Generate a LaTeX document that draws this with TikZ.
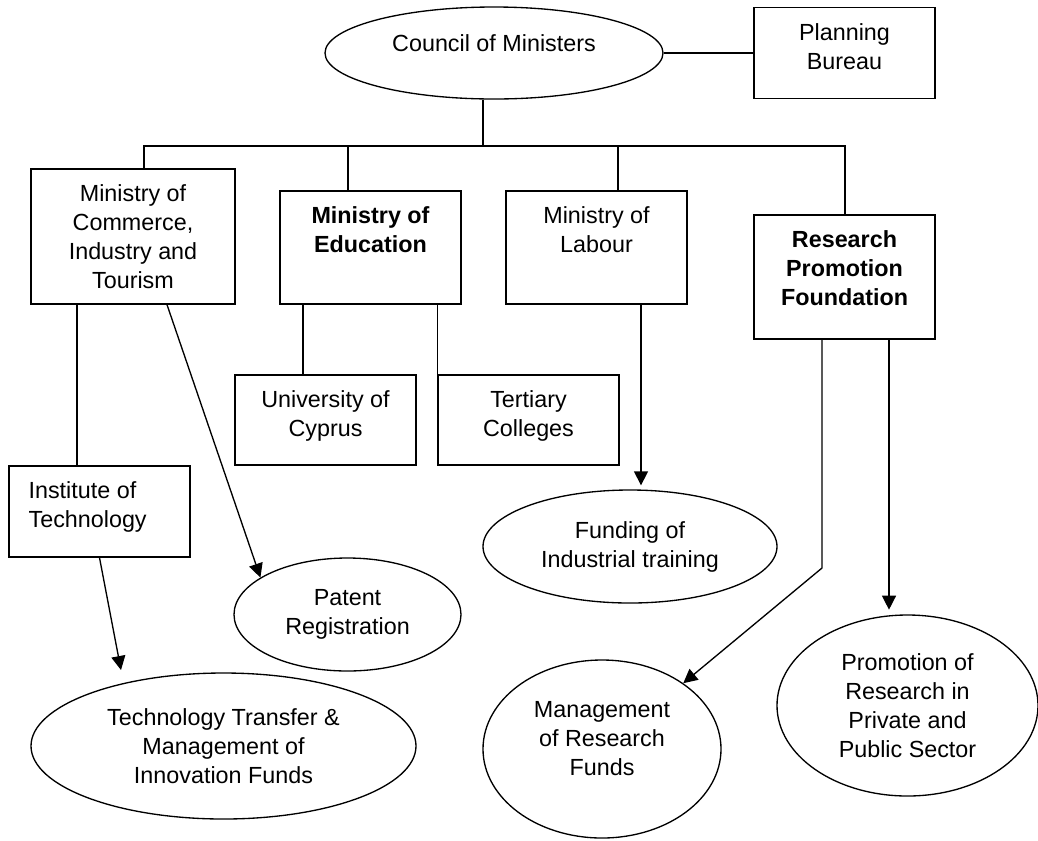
\documentclass[tikz,border=0pt]{standalone}
\usepackage{fontspec}
\setmainfont{Liberation Sans}
\usetikzlibrary{shapes.geometric}
\usetikzlibrary{arrows.meta}
\usetikzlibrary{positioning}

\tikzset{
  box/.style={draw, line width=1pt, rectangle, inner sep=0pt, minimum width=135.75pt},
  oval/.style={draw, line width=1pt, ellipse, inner sep=0pt, align=center},
  txt/.style={inner sep=0pt, align=center},
  boldtxt/.style={txt, font=\fontsize{17.5}{21.75}\selectfont\bfseries},
  link/.style={line width=1pt},
  arr/.style={line width=1pt, -{Triangle[length=10.5pt,width=10.5pt]}},
}

\begin{document}
\begin{tikzpicture}[x=0.75pt,y=0.75pt,yscale=-1,xscale=1,every node/.style={font=\fontsize{17.5}{21.75}\selectfont}]
\useasboundingbox (0,0) rectangle (1038,840);

%Shape: Ellipse
\node [oval, minimum width=253.5pt, minimum height=69pt, text depth=15pt] (council) at (494,53) {Council of Ministers};
%Shape: Rectangle
\node [box, minimum height=68.25pt] (planning) at (844.5,53) {};
% Text Node
\node [txt, below=12pt of planning.north] (planning-txt) {Planning\\Bureau};

%Shape: Rectangle
\node [box, minimum width=153pt, minimum height=101.25pt] (commerce) at (133,236.5) {};
% Text Node
\node [txt, below=12pt of commerce.north] (commerce-txt) {Ministry of\\Commerce,\\Industry and\\Tourism};
%Shape: Rectangle
\node [box, minimum height=84.75pt] (edu) at (370.5,247.5) {};
% Text Node
\node [boldtxt, below=12pt of edu.north] (edu-txt) {Ministry of\\Education};
%Shape: Rectangle
\node [box, minimum height=84.75pt] (labour) at (596.5,247.5) {};
% Text Node
\node [txt, below=12pt of labour.north] (labour-txt) {Ministry of\\Labour};
%Shape: Rectangle
\node [box, minimum height=93pt] (rpf) at (844.5,277) {};
% Text Node
\node [boldtxt, below=12pt of rpf.north] (rpf-txt) {Research\\Promotion\\Foundation};

%Shape: Rectangle
\node [box, minimum height=67.5pt] (univ) at (325.5,420) {};
% Text Node
\node [txt, below=12pt of univ.north] (univ-txt) {University of\\Cyprus};
%Shape: Rectangle
\node [box, minimum height=67.5pt] (tertiary) at (528.5,420) {};
% Text Node
\node [txt, below=12pt of tertiary.north] (tertiary-txt) {Tertiary\\Colleges};
%Shape: Rectangle
\node [box, minimum height=68.25pt] (inst) at (99.5,511.5) {};
% Text Node
\node [txt, align=left, below right=12pt and 15pt of inst.north west] (inst-txt) {Institute of\\Technology};

%Shape: Ellipse
\node [oval, minimum width=220.5pt, minimum height=84.75pt] (funding) at (630,546.5) {Funding of\\Industrial training};
%Shape: Ellipse
\node [oval, minimum width=170.25pt, minimum height=84.75pt] (patent) at (347.5,614.5) {Patent\\Registration};
%Shape: Ellipse
\node [oval, minimum width=288.75pt, minimum height=109.5pt] (transfer) at (223.5,746) {Technology Transfer \&\\Management of\\Innovation Funds};
%Shape: Ellipse
\node [oval, minimum width=178.5pt, minimum height=133.5pt, text depth=16.5pt] (mgmt) at (602,749) {Management\\of Research\\Funds};
%Shape: Ellipse
\node [oval, minimum width=195.75pt, minimum height=135.75pt] (promo) at (907.5,705.5) {Promotion of\\Research in\\Private and\\Public Sector};

\coordinate (bus) at (483,146);
\coordinate (j1) at (144,146);
\coordinate (j2) at (348,146);
\coordinate (j3) at (618,146);
\coordinate (j4) at (845,146);
\coordinate (tt-in) at (121,670);
\coordinate (bend) at (822,568);

%Straight Lines
\draw [link] (council.east) -- (planning.west);
\draw [link] (bus |- council.south) -- (bus);
\draw [link] (j1 |- commerce.north) -- (j1) -- (j4) -- (j4 |- rpf.north);
\draw [link] (j2) -- (j2 |- edu.north);
\draw [link] (j3) -- (j3 |- labour.north);
%Straight Lines
\draw [link] ([xshift=-42pt]commerce.south) -- ([xshift=-42pt]commerce.south |- inst.north);
\draw [arr] ([xshift=25.5pt]commerce.south) -- (patent.157);
\draw [arr] (inst.south) -- (tt-in);
%Straight Lines
\draw [link] ([xshift=-50.625pt]edu.south) -- ([xshift=-16.875pt]univ.north);
\draw [link] (tertiary.north west |- edu.south) -- (tertiary.north west);
\draw [arr, shorten >=3pt] ([xshift=33.375pt]labour.south) -- ([xshift=33.375pt]labour.south |- funding.north);
%Straight Lines
\draw [arr] (bend |- rpf.south) -- (bend) -- (mgmt.39);
\draw [arr, shorten >=3.5pt] ([xshift=33.375pt]rpf.south) -- ([xshift=33.375pt]rpf.south |- promo.north);

\end{tikzpicture}
\end{document}
